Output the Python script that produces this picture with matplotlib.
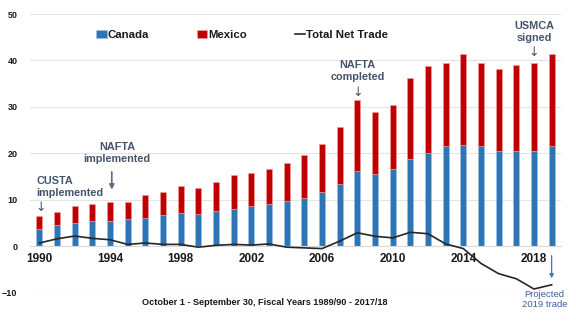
import matplotlib
matplotlib.use("Agg")
import matplotlib.pyplot as plt
import numpy as np

plt.rcParams['font.family'] = ['Liberation Sans', 'DejaVu Sans']

years = list(range(1990, 2020))
canada = [3.7, 4.5, 5.0, 5.4, 5.4, 5.9, 6.0, 6.7, 7.1, 7.0,
          7.6, 8.0, 8.6, 9.2, 9.7, 10.4, 11.6, 13.3, 16.3, 15.6,
          16.7, 18.7, 20.0, 21.5, 21.8, 21.5, 20.5, 20.6, 20.6, 21.5]
total = [6.5, 7.4, 8.6, 9.0, 9.6, 9.6, 11.0, 11.6, 12.9, 12.6,
         13.8, 15.4, 15.7, 16.7, 18.0, 19.6, 22.1, 25.6, 31.5, 28.9,
         30.5, 36.3, 38.9, 39.4, 41.3, 39.4, 38.1, 39.0, 39.4, 41.3]
net_trade = [0.7, 1.6, 2.2, 1.7, 1.4, 0.4, 0.7, 0.4, 0.4, -0.2,
             0.2, 0.4, 0.25, 0.5, -0.2, -0.35, -0.5, 1.1, 2.9, 2.15,
             1.8, 3.0, 2.7, 0.5, -0.5, -3.7, -5.9, -7.0, -9.2, -8.3]
mexico = [t - c for t, c in zip(total, canada)]

year_ticks = list(range(1990, 2019, 4))

blue = '#2E75B6'
red = '#C00000'
note = '#44546A'

fig = plt.figure(figsize=(5.76, 3.24), dpi=100)
ax = fig.add_axes([30 / 576, 1 - 292.7 / 324, 531 / 576, 278.7 / 324])

b1 = ax.bar(years, canada, width=0.33, color=blue, edgecolor='#9DC3E6', linewidth=0.4,
            label='Canada', zorder=2)
b2 = ax.bar(years, mexico, bottom=canada, width=0.33, color=red, edgecolor='#F4A0A0',
            linewidth=0.4, label='Mexico', zorder=2)
l1, = ax.plot(years, net_trade, color='#262626', linewidth=1.2, label='Total Net Trade',
              zorder=3)

ax.set_xlim(1989.47, 2019.53)
ax.set_ylim(-10, 50)
ax.set_yticks([-10, 0, 10, 20, 30, 40, 50])
ax.set_xticks(year_ticks)
ax.grid(axis='y', color='#E4E4E4', linewidth=0.8, zorder=0)
ax.set_axisbelow(True)

for s in ['top', 'right', 'left']:
    ax.spines[s].set_visible(False)
ax.spines['bottom'].set_position(('data', 0))
ax.spines['bottom'].set_color('#D9D9D9')
ax.tick_params(axis='x', length=0, pad=5, labelsize=8.5, labelcolor='#1A1A1A')
ax.tick_params(axis='y', length=0, pad=9, labelsize=6.5, labelcolor='#1A1A1A')
for lab in ax.get_xticklabels() + ax.get_yticklabels():
    lab.set_fontweight('bold')

ax.text(0.443, -0.036, 'October 1 - September 30, Fiscal Years 1989/90 - 2017/18',
        transform=ax.transAxes, ha='center', va='center', fontsize=6.6,
        fontweight='bold', color='#1A1A1A')

leg = ax.legend([b1, b2, l1], ['Canada', 'Mexico', 'Total Net Trade'],
                loc='center', bbox_to_anchor=(0.40, 0.925), ncol=3, frameon=False,
                fontsize=8.2, handlelength=0.9, handleheight=0.6, handletextpad=0.1,
                columnspacing=4.2)
for t in leg.get_texts():
    t.set_fontweight('bold')
    t.set_color('#1A1A1A')

# annotations
ax.text(1989.85, 12.8, 'CUSTA\nimplemented', ha='left', va='center', fontsize=7.8,
        fontweight='bold', color=note, linespacing=1.25)
ax.text(1990.1, 8.3, '\u2193', ha='center', va='center', fontsize=9, color=note,
        family=['DejaVu Sans'])

ax.text(1994.4, 20.0, 'NAFTA\nimplemented', ha='center', va='center', fontsize=7.8,
        fontweight='bold', color=note, linespacing=1.25)
ax.annotate('', xy=(1994.1, 11.6), xytext=(1994.1, 16.6),
            arrowprops=dict(arrowstyle='-|>', color='#5D6B80', lw=1.2,
                            mutation_scale=7))

ax.text(2008.0, 37.75, 'NAFTA\ncompleted', ha='center', va='center', fontsize=7.8,
        fontweight='bold', color=note, linespacing=1.25)
ax.text(2008.0, 33.0, '\u2193', ha='center', va='center', fontsize=9, color=note,
        family=['DejaVu Sans'])

ax.text(2018.0, 46.1, 'USMCA\nsigned', ha='center', va='center', fontsize=7.8,
        fontweight='bold', color=note, linespacing=1.25)
ax.text(2018.0, 41.8, '\u2193', ha='center', va='center', fontsize=9, color=note,
        family=['DejaVu Sans'])

ax.text(2018.6, -11.5, 'Projected\n2019 trade', ha='center', va='center', fontsize=6.8,
        color='#3F5FA0', linespacing=1.15, clip_on=False)
ax.annotate('', xy=(2019.0, -7.5), xytext=(2019.0, -1.4),
            arrowprops=dict(arrowstyle='-|>', color='#4472C4', lw=0.9,
                            mutation_scale=6), annotation_clip=False)

fig.savefig('out.png', dpi=100)
